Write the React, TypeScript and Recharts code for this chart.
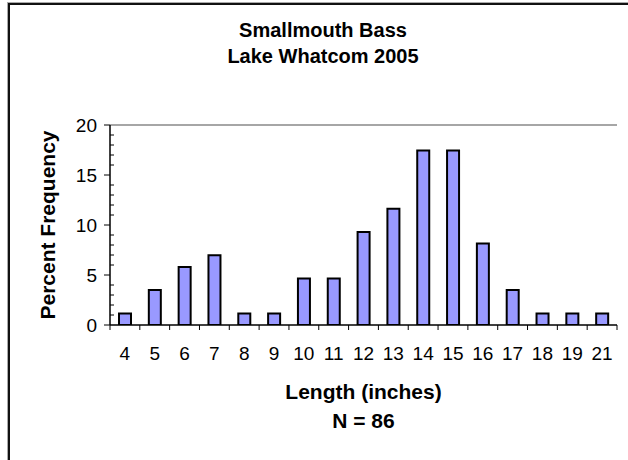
import React from "react";
import { BarChart, Bar, XAxis, YAxis, ReferenceLine } from "recharts";

const lengths = ["4", "5", "6", "7", "8", "9", "10", "11", "12", "13", "14", "15", "16", "17", "18", "19", "21"];
const percentFreq = [1.16, 3.49, 5.81, 6.98, 1.16, 1.16, 4.65, 4.65, 9.3, 11.63, 17.44, 17.44, 8.14, 3.49, 1.16, 1.16, 1.16];
const yTicks = [0, 1, 2, 3, 4, 5, 6, 7, 8, 9, 10, 11, 12, 13, 14, 15, 16, 17, 18, 19, 20];
const titleLines = ["Smallmouth Bass", "Lake Whatcom 2005"];
const xTitleLines = ["Length (inches)", "N = 86"];

const data = lengths.map((len, i) => ({ len, pct: percentFreq[i] }));

const font = "'Liberation Sans', Arial, sans-serif";

const YTick = (props: any) => {
  const { x, y, payload } = props;
  const v = payload.value;
  const major = v % 5 === 0;
  return (
    <g>
      {major ? (
        <line x1={x - 6} x2={x} y1={y} y2={y} stroke="#000" strokeWidth={1} />
      ) : (
        <line x1={x} x2={x + 4} y1={y} y2={y} stroke="#000" strokeWidth={1} />
      )}
      {major && (
        <text x={x - 13} y={y} dy={7} textAnchor="end" fontSize={19} fill="#000" fontFamily={font}>
          {v}
        </text>
      )}
    </g>
  );
};

const XTick = (props: any) => {
  const { x, y, payload, index } = props;
  const half = payload.offset || 15;
  return (
    <g>
      {index === 0 && <line x1={x - half} x2={x - half} y1={y} y2={y + 5} stroke="#000" />}
      <line x1={x + half} x2={x + half} y1={y} y2={y + 5} stroke="#000" />
      <text x={x} y={y + 35} textAnchor="middle" fontSize={19} fill="#000" fontFamily={font}>
        {payload.value}
      </text>
    </g>
  );
};

const XTitle = (props: any) => {
  const vb = props.viewBox;
  const cx = vb.x + vb.width / 2;
  return (
    <text x={cx} y={vb.y + 74} textAnchor="middle" fontSize={21} fontWeight="bold" fontFamily={font} fill="#000">
      <tspan x={cx}>{xTitleLines[0]}</tspan>
      <tspan x={cx} dy={29}>{xTitleLines[1]}</tspan>
    </text>
  );
};

const YTitle = (props: any) => {
  const vb = props.viewBox;
  const cy = vb.y + vb.height / 2;
  return (
    <text
      x={55}
      y={cy}
      transform={`rotate(-90 55 ${cy})`}
      textAnchor="middle"
      fontSize={21}
      fontWeight="bold"
      fontFamily={font}
      fill="#000"
    >
      Percent Frequency
    </text>
  );
};

export default function App() {
  return (
    <div style={{ position: "absolute", left: 0, top: 0, width: 628, height: 460, overflow: "hidden", background: "#fff" }}>
      <div
        style={{
          position: "absolute",
          left: 8,
          top: 3,
          width: 640,
          height: 480,
          border: "2px solid #111",
          boxShadow: "-1px -1px 0 #aaa",
        }}
      />
      <div
        style={{
          position: "absolute",
          left: 8,
          top: 17,
          width: 630,
          textAlign: "center",
          fontFamily: font,
          fontWeight: "bold",
          fontSize: 20,
          lineHeight: "26px",
          color: "#000",
        }}
      >
        <div>{titleLines[0]}</div>
        <div>{titleLines[1]}</div>
      </div>
      <div style={{ position: "absolute", left: 0, top: 0 }}>
        <BarChart width={628} height={460} data={data} margin={{ top: 125, right: 11, left: 50, bottom: 105 }} barCategoryGap={0}>
          <XAxis
            dataKey="len"
            interval={0}
            tickSize={0}
            tickMargin={0}
            tickLine={false}
            tick={<XTick />}
            height={30}
            axisLine={{ stroke: "#000", strokeWidth: 1.5 }}
            label={{ content: <XTitle /> }}
          />
          <YAxis
            domain={[0, 20]}
            ticks={yTicks}
            interval={0}
            tickSize={0}
            tickMargin={0}
            tickLine={false}
            tick={<YTick />}
            width={60}
            allowDataOverflow
            axisLine={{ stroke: "#000", strokeWidth: 1.5 }}
            label={{ content: <YTitle /> }}
          />
          <YAxis
            yAxisId="r"
            orientation="right"
            domain={[0, 20]}
            width={0}
            tick={false}
            tickLine={false}
            axisLine={{ stroke: "#888", strokeWidth: 1.5 }}
          />
          <ReferenceLine y={20} stroke="#888" strokeWidth={1.5} />
          <Bar dataKey="pct" fill="#9999FF" stroke="#000" strokeWidth={2} barSize={12} isAnimationActive={false} />
        </BarChart>
      </div>
    </div>
  );
}
